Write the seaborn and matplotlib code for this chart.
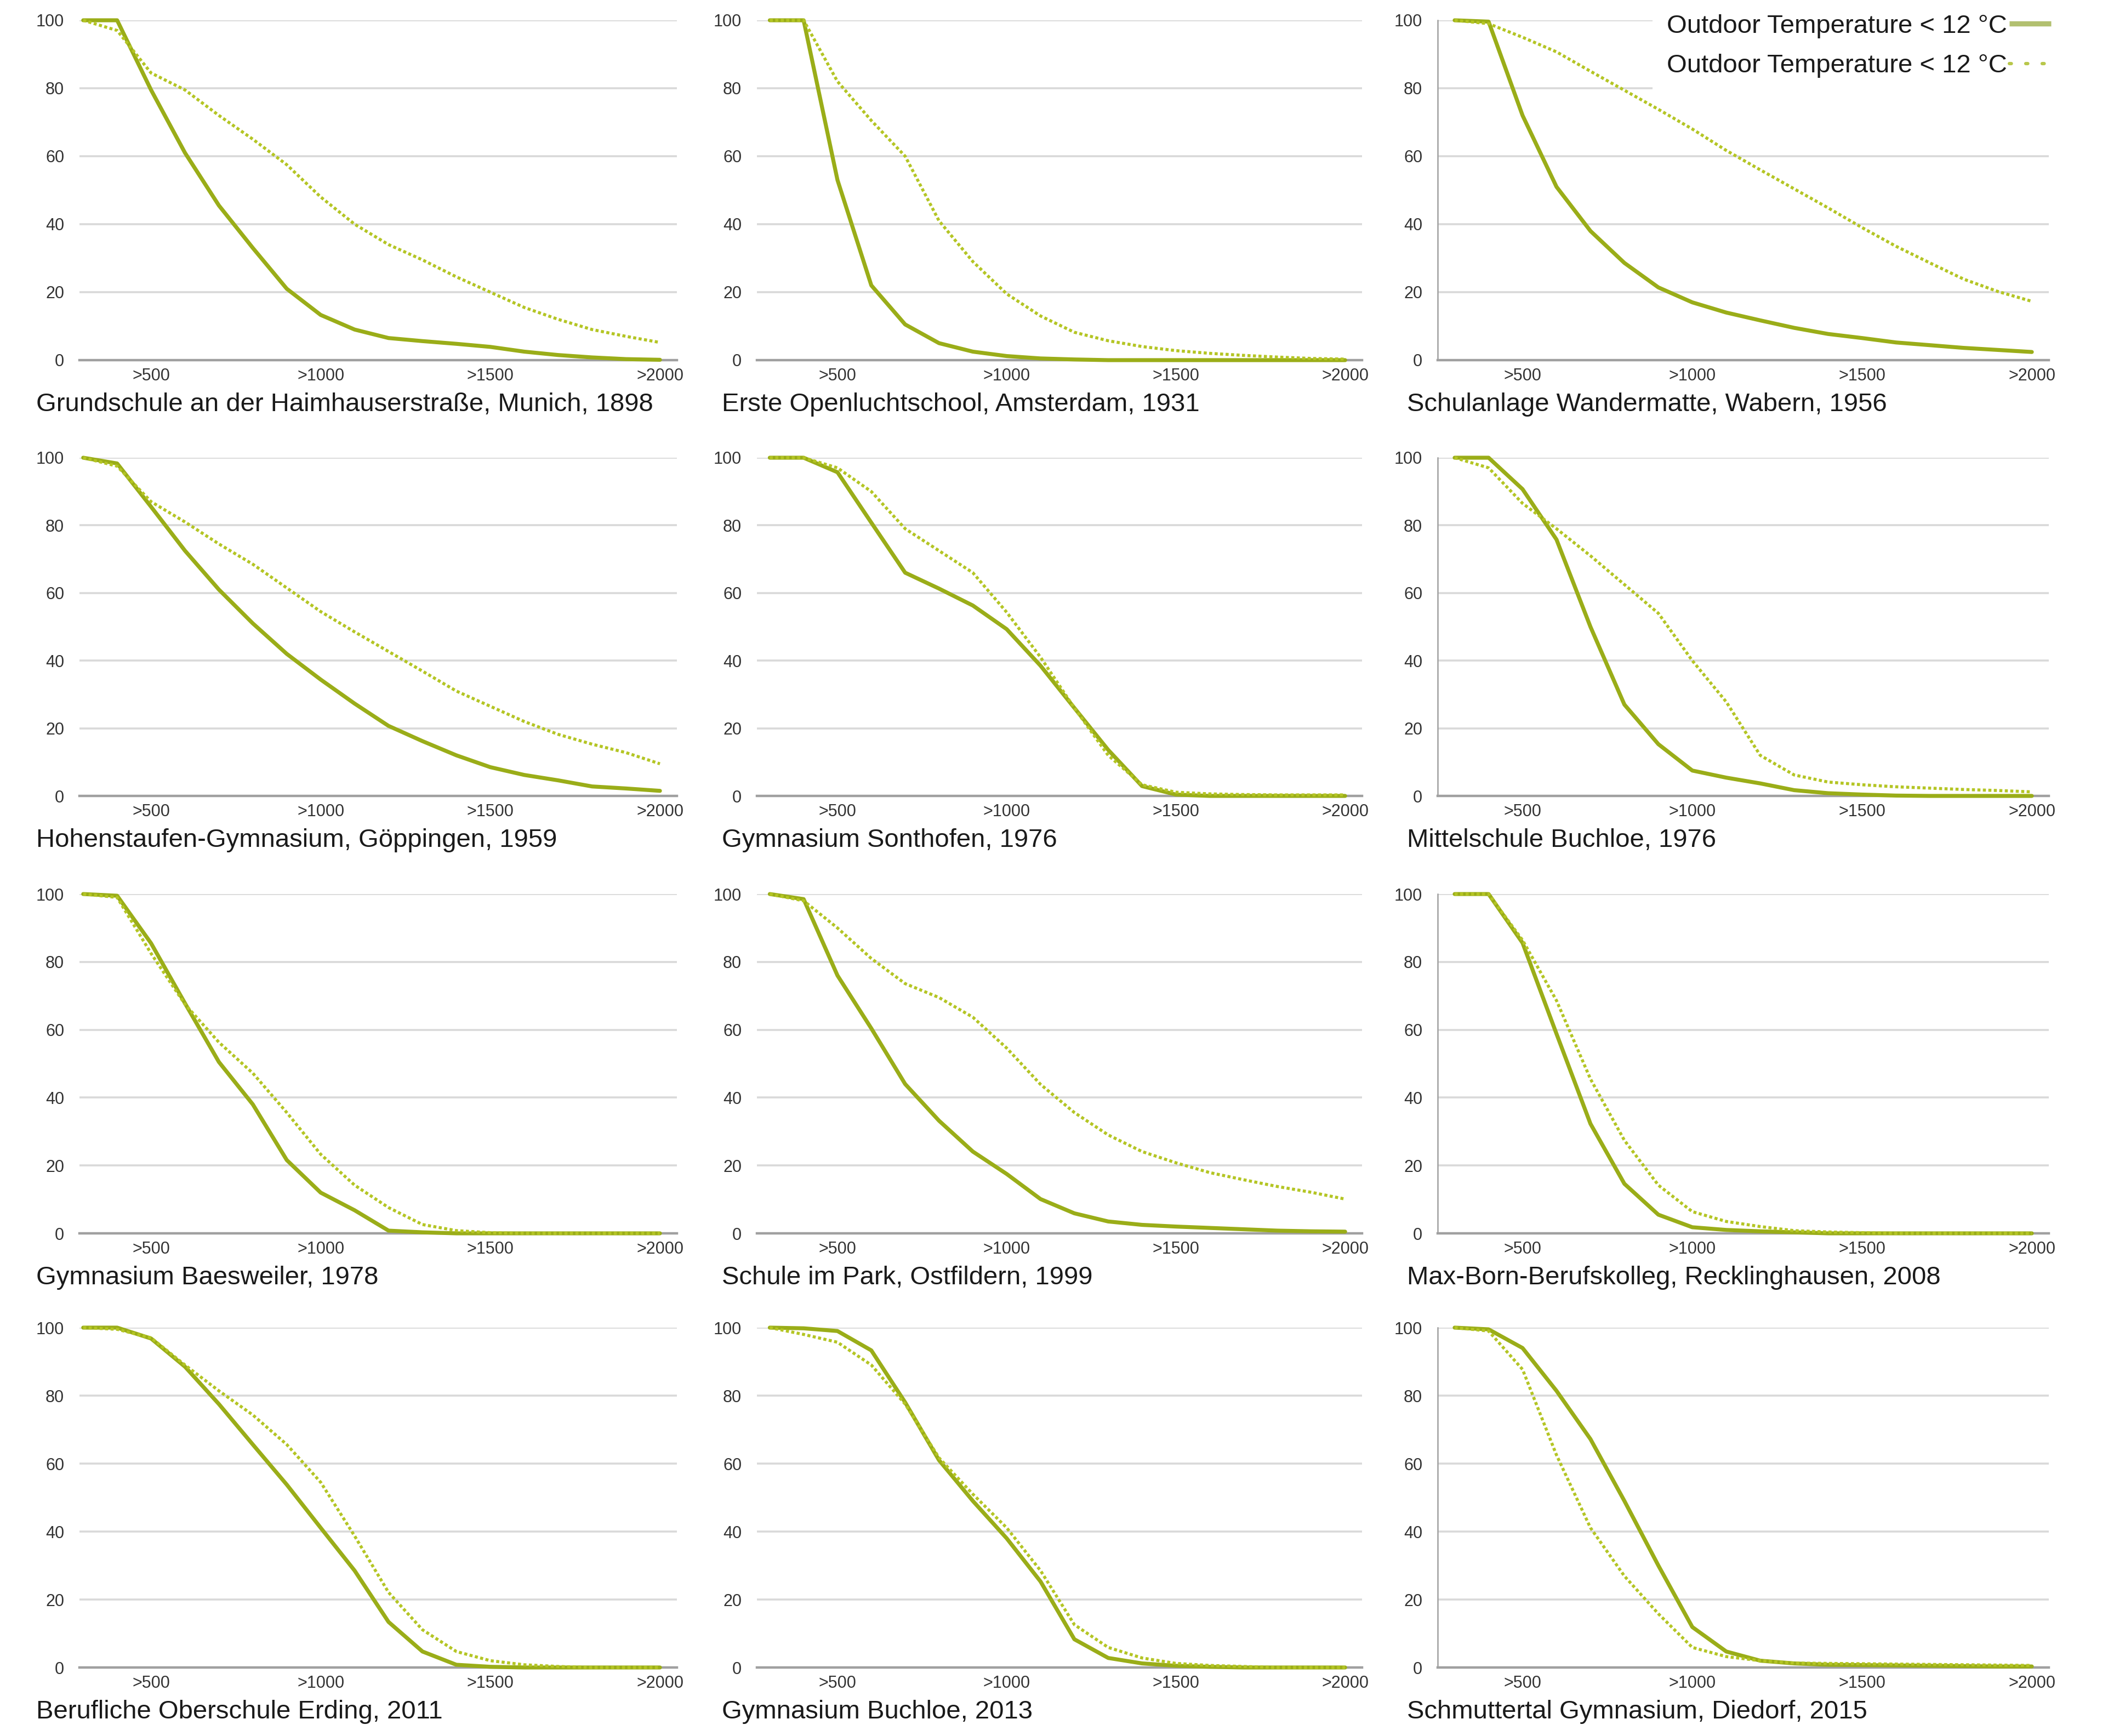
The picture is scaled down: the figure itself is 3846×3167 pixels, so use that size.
import numpy as np
import pandas as pd
import matplotlib
matplotlib.use("Agg")
import matplotlib.pyplot as plt
from matplotlib.lines import Line2D
import seaborn as sns

# hours above the comfort threshold (category axis)
hours = [300, 400, 500, 600, 700, 800, 900, 1000, 1100, 1200,
         1300, 1400, 1500, 1600, 1700, 1800, 1900, 2000]
tick_hours = [500, 1000, 1500, 2000]
tick_labels = [">500", ">1000", ">1500", ">2000"]

# values read per school (solid / dotted series)
munich_solid = [100, 100, 79.5, 61, 45.5, 33, 21, 13.3, 9, 6.5, 5.6, 4.8, 3.9, 2.5, 1.5, 0.8, 0.3, 0.1]
munich_dotted = [100, 97, 84.5, 79.5, 72, 65, 57.5, 48, 40, 34, 29.5, 24.5, 20, 15.5, 12, 9, 7, 5.2]
amsterdam_solid = [100, 100, 53, 22, 10.5, 5, 2.5, 1.2, 0.5, 0.2, 0, 0, 0, 0, 0, 0, 0, 0]
amsterdam_dotted = [100, 100, 82, 70.5, 60, 41, 29, 19.5, 13, 8.2, 5.7, 4, 2.8, 2, 1.4, 0.9, 0.5, 0.3]
wabern_solid = [100, 99.6, 72, 51, 38, 28.6, 21.4, 17, 14, 11.7, 9.5, 7.7, 6.5, 5.2, 4.4, 3.6, 3, 2.4]
wabern_dotted = [100, 99, 95, 90.7, 85, 79.4, 73.8, 68, 61.7, 56, 50.4, 44.8, 39, 33.5, 28.6, 23.8, 20.2, 17.3]
goeppingen_solid = [100, 98.3, 85.5, 72.5, 61, 51, 42, 34.4, 27.3, 20.7, 16.2, 12, 8.5, 6.2, 4.6, 2.8, 2.2, 1.5]
goeppingen_dotted = [100, 97.5, 87, 81, 74.5, 68.5, 61.5, 54.5, 48.5, 42.7, 36.9, 31, 26.5, 22, 18.2, 15.3, 12.8, 9.5]
sonthofen_solid = [100, 100, 95.7, 80.8, 66, 61.3, 56.3, 49.3, 38.5, 26, 13.6, 2.9, 0.4, 0, 0, 0, 0, 0]
sonthofen_dotted = [100, 100, 97, 90, 79, 72.5, 66, 54.3, 41, 26, 12, 3.3, 1.1, 0.6, 0.4, 0.3, 0.3, 0.3]
mittelschule_solid = [100, 100, 90.7, 75.8, 50, 27, 15.3, 7.5, 5.4, 3.7, 1.7, 0.8, 0.4, 0.1, 0, 0, 0, 0]
mittelschule_dotted = [100, 97, 86.5, 79, 71, 62.5, 54, 40, 27.8, 12, 6.2, 4.1, 3.3, 2.7, 2.3, 1.9, 1.6, 1.2]
baesweiler_solid = [100, 99.5, 85.5, 67.8, 50.5, 38, 21.6, 12, 6.8, 0.8, 0.3, 0, 0, 0, 0, 0, 0, 0]
baesweiler_dotted = [100, 99, 82.5, 67.5, 56.3, 47.2, 35.6, 23.3, 14.2, 7.6, 2.6, 0.8, 0.2, 0, 0, 0, 0, 0]
ostfildern_solid = [100, 98.5, 76, 60.4, 44, 33.2, 24.1, 17.5, 10.1, 5.9, 3.5, 2.5, 2, 1.6, 1.2, 0.8, 0.6, 0.5]
ostfildern_dotted = [100, 98, 90, 81, 73.6, 69.5, 63.7, 54.6, 43.9, 35.6, 29, 24.1, 20.8, 17.9, 15.8, 13.8, 12.1, 10.1]
recklinghausen_solid = [100, 100, 85.6, 58.8, 32.3, 14.6, 5.5, 1.8, 1, 0.6, 0.3, 0, 0, 0, 0, 0, 0, 0]
recklinghausen_dotted = [100, 100, 86.4, 68.6, 45.5, 27.4, 14.2, 6.4, 3.5, 2, 0.8, 0.4, 0.2, 0, 0, 0, 0, 0]
erding_solid = [100, 100, 96.8, 88.5, 77.5, 65.6, 53.8, 41.1, 28.5, 13.4, 4.7, 0.8, 0.2, 0, 0, 0, 0, 0]
erding_dotted = [100, 99.5, 97, 89, 81.4, 74.3, 65.6, 54.5, 38.7, 22.1, 11.1, 4.7, 2, 0.8, 0.3, 0, 0, 0]
buchloe_solid = [100, 99.8, 99, 93.3, 78, 61, 49, 38, 25.3, 8.3, 2.8, 1.2, 0.5, 0.2, 0, 0, 0, 0]
buchloe_dotted = [100, 98, 95.7, 89, 77.5, 61.7, 51, 41.1, 28.5, 12.6, 5.9, 2.8, 1.2, 0.6, 0.3, 0, 0, 0]
diedorf_solid = [100, 99.5, 94, 81.4, 67.2, 49, 30, 11.9, 4.7, 2, 1.2, 0.8, 0.7, 0.6, 0.5, 0.4, 0.3, 0.3]
diedorf_dotted = [100, 99, 87.7, 62.5, 41.1, 26.9, 15.8, 5.9, 3.2, 2, 1.3, 1.2, 1.1, 1, 0.9, 0.8, 0.7, 0.6]

titles = [
    "Grundschule an der Haimhauserstraße, Munich, 1898",
    "Erste Openluchtschool, Amsterdam, 1931",
    "Schulanlage Wandermatte, Wabern, 1956",
    "Hohenstaufen-Gymnasium, Göppingen, 1959",
    "Gymnasium Sonthofen, 1976",
    "Mittelschule Buchloe, 1976",
    "Gymnasium Baesweiler, 1978",
    "Schule im Park, Ostfildern, 1999",
    "Max-Born-Berufskolleg, Recklinghausen, 2008",
    "Berufliche Oberschule Erding, 2011",
    "Gymnasium Buchloe, 2013",
    "Schmuttertal Gymnasium, Diedorf, 2015",
]
solid_series = [munich_solid, amsterdam_solid, wabern_solid, goeppingen_solid,
                sonthofen_solid, mittelschule_solid, baesweiler_solid, ostfildern_solid,
                recklinghausen_solid, erding_solid, buchloe_solid, diedorf_solid]
dotted_series = [munich_dotted, amsterdam_dotted, wabern_dotted, goeppingen_dotted,
                 sonthofen_dotted, mittelschule_dotted, baesweiler_dotted, ostfildern_dotted,
                 recklinghausen_dotted, erding_dotted, buchloe_dotted, diedorf_dotted]
legend_label = "Outdoor Temperature < 12 °C"

sns.set_style("white")
plt.rcParams["font.family"] = ["Liberation Sans", "DejaVu Sans"]

SOLID = "#9aad18"
DOTTED = "#b4c524"
GRID = "#d9d9d9"
AXIS = "#a0a0a0"

W, H = 3846, 3167
fig = plt.figure(figsize=(W / 200, H / 200), dpi=200)

# layout in pixels of the reference
cols_px = [(145, 1235), (1381, 2485), (2623, 3738)]
rows_px = [(37, 657), (835, 1452), (1631, 2250), (2422, 3042)]
col_xlim = [(289, 2050), (262, 2050), (250, 2050)]
title_x = [66, 1317, 2567]

for i, title in enumerate(titles):
    r, c = divmod(i, 3)
    l, rt = cols_px[c]
    t, b = rows_px[r]
    ax = fig.add_axes([l / W, 1 - b / H, (rt - l) / W, (b - t) / H])

    sns.lineplot(x=hours, y=solid_series[i], ax=ax, color=SOLID, linewidth=2.6,
                 clip_on=False, zorder=3, legend=False)
    sns.lineplot(x=hours, y=dotted_series[i], ax=ax, color=DOTTED, linewidth=2.0,
                 linestyle=(0, (1.0, 0.8)), clip_on=False, zorder=4, legend=False)

    ax.set_xlim(*col_xlim[c])
    ax.set_ylim(0, 100)
    ax.set_yticks([0, 20, 40, 60, 80, 100])
    ax.yaxis.grid(True, color=GRID, linewidth=1.3)
    ax.set_axisbelow(True)

    ax.set_xticks(tick_hours)
    ax.set_xticklabels(tick_labels)
    ax.set_xticks(np.arange(350, 2051, 100), minor=True)
    ax.tick_params(axis="x", which="major", length=0, pad=5, labelsize=11, labelcolor="#333333")
    ax.tick_params(axis="x", which="minor", length=2.4, width=0.8, color=AXIS, direction="out")
    ax.tick_params(axis="y", length=0, pad=10, labelsize=11, labelcolor="#333333")
    ax.set_xlabel("")
    ax.set_ylabel("")

    for side in ["top", "right"]:
        ax.spines[side].set_visible(False)
    ax.spines["bottom"].set_color(AXIS)
    ax.spines["bottom"].set_linewidth(1.6)
    if c == 2:
        ax.spines["left"].set_color(AXIS)
        ax.spines["left"].set_linewidth(0.9)
    else:
        ax.spines["left"].set_visible(False)

    fig.text(title_x[c] / W, 1 - (b + 93) / H, title, fontsize=17,
             color="#1a1a1a", ha="left", va="baseline")

handles = [
    Line2D([], [], color="#b2c070", linewidth=3.4, solid_capstyle="butt"),
    Line2D([], [], color="#b8c74a", linewidth=2.2, linestyle=(0, (0.6, 4.3)),
           dash_capstyle="round"),
]
leg = fig.legend(handles, [legend_label, legend_label], loc="upper right",
                 bbox_to_anchor=(3768 / W, 1.0), frameon=True, facecolor="white",
                 edgecolor="none", framealpha=1, fontsize=17, markerfirst=False,
                 handlelength=1.6, handletextpad=0.1, labelspacing=0.6,
                 borderpad=0.55, borderaxespad=0)
leg.get_frame().set_boxstyle("square", pad=0)
for txt in leg.get_texts():
    txt.set_color("#1a1a1a")

fig.savefig("out.png", dpi=200)
